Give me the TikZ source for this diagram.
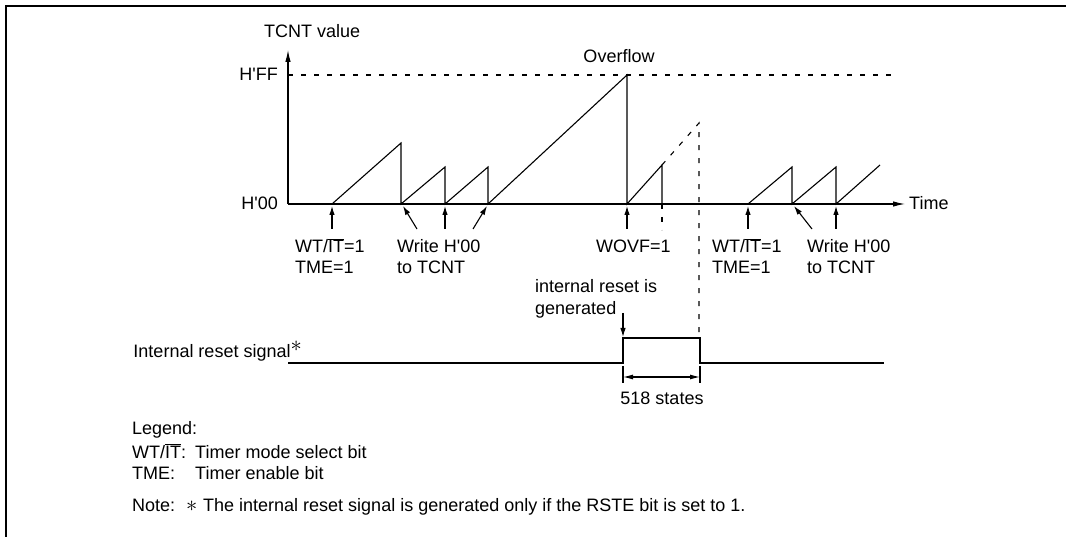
\documentclass[tikz,border=0pt]{standalone}
\usepackage{fontspec}
\usepackage{graphicx}
\setmainfont{Liberation Sans}
\usetikzlibrary{arrows.meta}
\newcommand{\wtit}{WT/$\overline{\mbox{IT}}$}
\newcommand{\hq}{H\textquotesingle}
\newcommand{\astr}{\scalebox{1.3}{$\ast$}}

\begin{document}
\begin{tikzpicture}[
    x=1pt, y=-1pt,
    every node/.style={font=\fontsize{18}{21}\selectfont, inner sep=0pt},
    lbl/.style={anchor=base west},
    lblR/.style={anchor=base east},
    lblC/.style={anchor=base},
    edgeline/.style={line width=2.7pt},
    wave/.style={line width=1.1pt, line join=miter},
    guide/.style={line width=1.1pt, dash pattern=on 5pt off 8pt},
    axis/.style={line width=1.1pt, -{Latex[length=12pt, width=5.5pt]}},
    ptr/.style={line width=1.1pt, -{Latex[length=9pt, width=5.5pt]}},
    span/.style={line width=1.1pt, {Latex[length=10pt, width=5pt]}-{Latex[length=10pt, width=5pt]}},
]
\useasboundingbox (0,0) rectangle (1066,537);
\draw[edgeline] (6,537) -- (6,6) -- (1066,6);

% axes
\coordinate (org)  at (288,204);
\coordinate (ytop) at (288,50);
\coordinate (xend) at (905,204);
\coordinate (ffL)  at (288,75);
\coordinate (ffR)  at (895,75);
\draw[axis] (org) -- (ytop);
\draw[axis] (org) -- (xend);
\draw[guide] (ffL) -- (ffR);
\node[lbl]  (tcnt) at (264,38)  {TCNT value};
\node[lblR] (hff)  at (278,81)  {\hq FF};
\node[lblR] (h00)  at (278,210) {\hq 00};
\node[lblC] (ovf)  at (619,63)  {Overflow};
\node[lbl]  (time) at (909,210) {Time};

% counter value
\draw[wave] (332,204) -- (401,143) -- (401,204) -- (445,167) -- (445,204)
    -- (488,167) -- (488,204) -- (627,75) -- (627,204) -- (662,165) -- (662,204);
\draw[guide] (662,204) -- (662,230);
\draw[guide] (662,165) -- (699,123) -- (699,338);
\draw[wave] (748,204) -- (792,167) -- (792,204) -- (836,167) -- (836,204) -- (880,165);

% pointers
\foreach \x [count=\i] in {332,445,627,748,836} {
    \coordinate (tail\i) at (\x,229);
    \coordinate (tip\i)  at (\x,206);
    \draw[ptr] (tail\i) -- (tip\i);
}
\coordinate (dtail1) at (417,229);
\coordinate (dtip1)  at (403,206);
\coordinate (dtail2) at (473,229);
\coordinate (dtip2)  at (487,206);
\coordinate (dtail3) at (812,229);
\coordinate (dtip3)  at (794,206);
\foreach \i in {1,2,3}
    \draw[ptr] (dtail\i) -- (dtip\i);

\node[lbl] (setA1) at (295,253) {\wtit=1};
\node[lbl] (setA2) at (295,274) {TME=1};
\node[lbl] (wrA1)  at (397,253) {Write \hq 00};
\node[lbl] (wrA2)  at (397,274) {to TCNT};
\node[lbl] (wovf)  at (596,253) {WOVF=1};
\node[lbl] (setB1) at (712,253) {\wtit=1};
\node[lbl] (setB2) at (712,274) {TME=1};
\node[lbl] (wrB1)  at (807,253) {Write \hq 00};
\node[lbl] (wrB2)  at (807,274) {to TCNT};

% reset signal
\node[lbl] (gen1) at (535,293) {internal reset is};
\node[lbl] (gen2) at (535,315) {generated};
\coordinate (gtail) at (623,313);
\coordinate (gtip)  at (623,337);
\draw[ptr] (gtail) -- (gtip);
\node[lblR] (sig) at (302,358) {Internal reset signal\raisebox{6.5pt}{\astr}};
\draw[wave] (288,363) -- (623,363) -- (623,338) -- (700,338) -- (700,363) -- (884,363);
\coordinate (rise) at (623,377);
\coordinate (fall) at (700,377);
\draw[wave] (623,366) -- (623,383);
\draw[wave] (700,366) -- (700,383);
\draw[span] (rise) -- (fall);
\node[lblC] (dur) at (662,404) {518 states};

% legend
\node[lbl] (leg)  at (132,434) {Legend:};
\node[lbl] (kwt)  at (132,458) {\wtit:};
\node[lbl] (dwt)  at (195,458) {Timer mode select bit};
\node[lbl] (ktme) at (132,479) {TME:};
\node[lbl] (dtme) at (195,479) {Timer enable bit};
\node[lbl] (note) at (132,511) {Note:};
\node[lbl] (star) at (186,511) {\astr};
\node[lbl] (ntxt) at (203,511) {The internal reset signal is generated only if the RSTE bit is set to 1.};
\end{tikzpicture}
\end{document}
